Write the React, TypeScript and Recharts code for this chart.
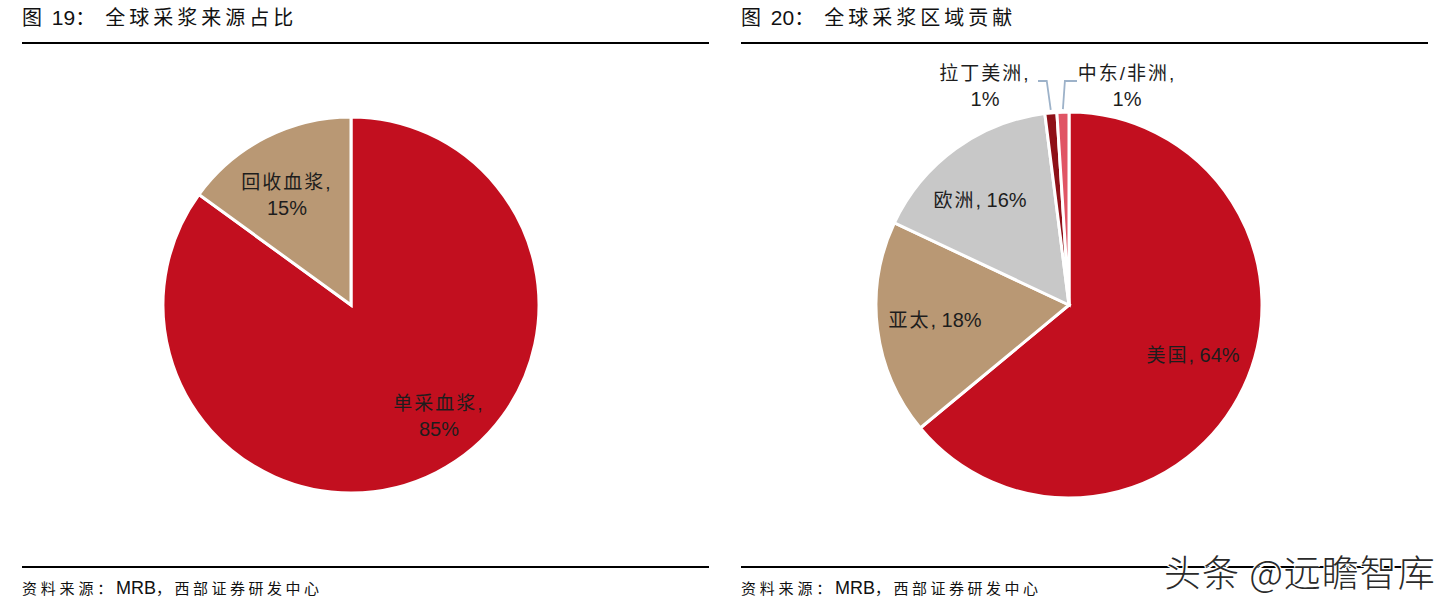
import React from 'react';
import { PieChart, Pie, Cell } from 'recharts';

// ---- data ----
const sourceNames = ['单采血浆', '回收血浆'];
const sourceValues = [85, 15];
const regionNames = ['美国', '亚太', '欧洲', '拉丁美洲', '中东/非洲'];
const regionValues = [64, 18, 16, 1, 1];

const leftTitle = { fig: '图', num: ' 19', colon: '：', text: '全球采浆来源占比' };
const rightTitle = { fig: '图', num: ' 20', colon: '：', text: '全球采浆区域贡献' };
const footer = { pre: '资料来源：', src: 'MRB', post: '，西部证券研发中心' };

// ---- styles ----
const sourceColors = ['#C20F1F', '#B99874'];
const regionColors = ['#C20F1F', '#B99874', '#C8C8C8', '#8E1118', '#E05565'];
const FONT = "'Liberation Sans', Arial, 'Noto Sans CJK SC', sans-serif";
const TEXT = '#1d1d1d';

const sourceData = sourceNames.map((name, i) => ({ name, value: sourceValues[i] }));
const regionData = regionNames.map((name, i) => ({ name, value: regionValues[i] }));

// label placement (offsets from pie centre)
const labelLayout: Record<string, { dx: number; dy: number; two: boolean; leader?: number }> = {
  单采血浆: { dx: 88, dy: 111, two: true },
  回收血浆: { dx: -64, dy: -110, two: true },
  美国: { dx: 124, dy: 50, two: false },
  亚太: { dx: -134, dy: 15, two: false },
  欧洲: { dx: -89, dy: -105, two: false },
  拉丁美洲: { dx: -84, dy: -219, two: true, leader: -1 },
  '中东/非洲': { dx: 58, dy: -219, two: true, leader: 1 },
};

const RAD = Math.PI / 180;

const renderLabel = (props: any) => {
  const { cx, cy, midAngle, outerRadius, name, value } = props;
  const lay = labelLayout[name];
  if (!lay) return null;
  const x = cx + lay.dx;
  const y = cy + lay.dy;
  const pct = `${value}%`;
  const els: any[] = [];
  if (lay.leader) {
    const ex = cx + (outerRadius + 1) * Math.cos(-midAngle * RAD);
    const ey = cy + (outerRadius + 1) * Math.sin(-midAngle * RAD);
    const ly = y - 5;
    const sx = lay.leader < 0 ? x + 53 : x - 50;
    const kx = lay.leader < 0 ? ex - 4 : ex + 2;
    els.push(
      <polyline
        key="l"
        points={`${sx},${ly} ${kx},${ly} ${ex},${ey - 2}`}
        fill="none"
        stroke="#9DB2C9"
        strokeWidth={1.8}
      />
    );
  }
  if (lay.two) {
    els.push(
      <text key="a" x={x} y={y - 13} textAnchor="middle" dominantBaseline="central" fill={TEXT} fontSize={19} fontFamily={FONT} letterSpacing={2}>
        {name},
      </text>,
      <text key="b" x={x} y={y + 13} textAnchor="middle" dominantBaseline="central" fill={TEXT} fontSize={20} fontFamily={FONT}>
        {pct}
      </text>
    );
  } else {
    els.push(
      <text key="a" x={x} y={y} textAnchor="middle" dominantBaseline="central" fill={TEXT} fontSize={20} fontFamily={FONT}>
        <tspan fontSize={19} letterSpacing={2}>{name}</tspan>
        <tspan>, {pct}</tspan>
      </text>
    );
  }
  return <g>{els}</g>;
};

const titleStyle: React.CSSProperties = {
  position: 'absolute',
  top: 6,
  fontSize: 20,
  fontFamily: FONT,
  color: '#111',
  whiteSpace: 'nowrap',
  lineHeight: '24px',
};
const footStyle: React.CSSProperties = {
  position: 'absolute',
  top: 578,
  fontSize: 15,
  fontFamily: FONT,
  color: '#111',
  whiteSpace: 'nowrap',
  lineHeight: '20px',
};
const lineStyle = (left: number, top: number, width: number): React.CSSProperties => ({
  position: 'absolute',
  left,
  top,
  width,
  height: 2,
  background: '#000',
});

const Title = ({ t, left }: { t: { fig: string; num: string; colon: string; text: string }; left: number }) => (
  <div style={{ ...titleStyle, left }}>
    <span style={{ letterSpacing: 4 }}>{t.fig}</span>
    <span style={{ fontSize: 21 }}>{t.num}</span>
    <span style={{ letterSpacing: 10 }}>{t.colon}</span>
    <span style={{ letterSpacing: 4 }}>{t.text}</span>
  </div>
);

const Footer = ({ left }: { left: number }) => (
  <div style={{ ...footStyle, left }}>
    <span style={{ letterSpacing: 3.8 }}>{footer.pre}</span>
    <span style={{ fontSize: 18 }}>{footer.src}</span>
    <span style={{ letterSpacing: 3.5 }}>{footer.post}</span>
  </div>
);

export default function App() {
  return (
    <div style={{ position: 'absolute', left: 0, top: 0, width: 1454, height: 610, background: '#fff', overflow: 'hidden' }}>
      <Title t={leftTitle} left={22} />
      <Title t={rightTitle} left={741} />
      <div style={lineStyle(22, 42, 687)} />
      <div style={lineStyle(741, 42, 687)} />
      <div style={lineStyle(22, 566, 687)} />
      <div style={lineStyle(741, 566, 687)} />
      <Footer left={22} />
      <Footer left={741} />
      <div style={{ position: 'absolute', left: 0, top: 0 }}>
        <PieChart width={1454} height={610} margin={{ top: 0, right: 0, bottom: 0, left: 0 }}>
          <Pie
            data={sourceData}
            dataKey="value"
            nameKey="name"
            cx={351}
            cy={305}
            outerRadius={188}
            startAngle={90}
            endAngle={-270}
            stroke="#fff"
            strokeWidth={3}
            label={renderLabel}
            labelLine={false}
            isAnimationActive={false}
          >
            {sourceData.map((d, i) => (
              <Cell key={d.name} fill={sourceColors[i]} />
            ))}
          </Pie>
          <Pie
            data={regionData}
            dataKey="value"
            nameKey="name"
            cx={1069}
            cy={305}
            outerRadius={193}
            startAngle={90}
            endAngle={-270}
            stroke="#fff"
            strokeWidth={3}
            label={renderLabel}
            labelLine={false}
            isAnimationActive={false}
          >
            {regionData.map((d, i) => (
              <Cell key={d.name} fill={regionColors[i]} />
            ))}
          </Pie>
        </PieChart>
      </div>
      <div
        style={{
          position: 'absolute',
          left: 1164,
          top: 548,
          fontSize: 37,
          letterSpacing: 1,
          fontWeight: 300,
          fontFamily: "'Noto Sans CJK SC', sans-serif",
          color: '#2a2a2a',
          whiteSpace: 'nowrap',
          lineHeight: '46px',
          textShadow: '2px 2px 0 #fff, -1px -1px 0 #fff, 1px -1px 0 #fff, -1px 1px 0 #fff',
        }}
      >
        头条 @远瞻智库
      </div>
    </div>
  );
}
